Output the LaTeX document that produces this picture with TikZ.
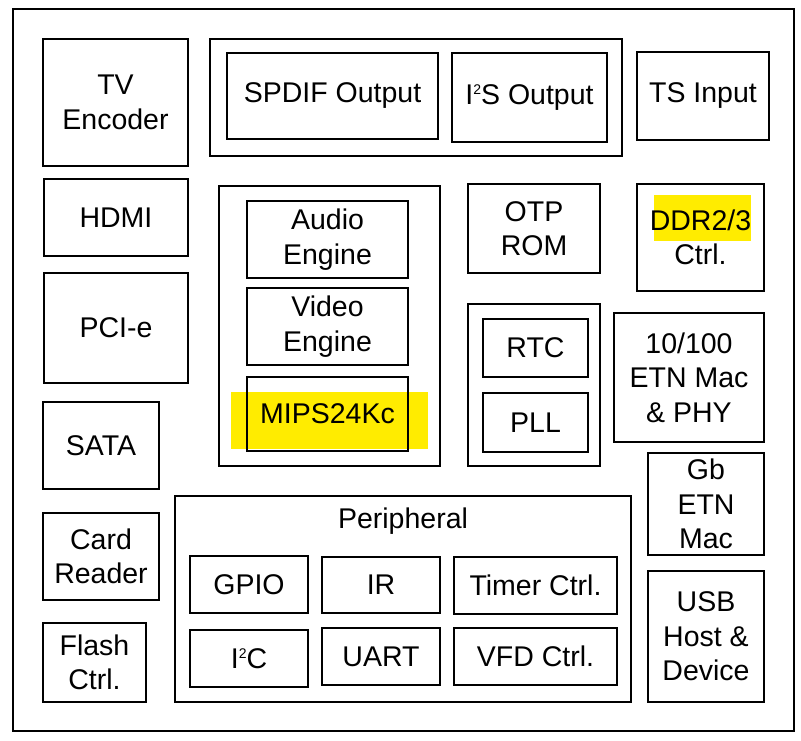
\documentclass[tikz,border=0pt]{standalone}
\usepackage{fontspec}
\setmainfont{Liberation Sans}
\definecolor{hl}{RGB}{255,236,0}
\newcommand\supTwo{\raisebox{10.5pt}{\fontsize{14}{14}\selectfont 2}}
\begin{document}
\begin{tikzpicture}[x=1pt,y=-1pt,
  blk/.style={draw=black, line width=1.8pt, inner sep=0pt, align=center,
    font=\fontsize{28.5}{34.5}\selectfont},
  lbl/.style={inner sep=0pt, align=center, font=\fontsize{28.5}{34.5}\selectfont}]
\useasboundingbox (0,0) rectangle (801,740);
% highlights
\fill[hl] (231,392) rectangle (428,449);
\fill[hl] (654,195) rectangle (751,241);
% outer and groups
\node[blk, minimum width=781pt, minimum height=722pt] (chip) at (403.5,370) {};
\node[blk, minimum width=412pt, minimum height=117pt] (audgrp) at (416,97.5) {};
\node[blk, minimum width=221pt, minimum height=280pt] (coregrp) at (329.5,326) {};
\node[blk, minimum width=132pt, minimum height=162pt] (clkgrp) at (534,385) {};
\node[blk, minimum width=456pt, minimum height=206pt] (periph) at (403,599) {};
\node[lbl] (periphlbl) at (403,521) {Peripheral};
% blocks
\node[blk, minimum width=145pt, minimum height=127pt] (tv) at (115.5,102.5) {TV\\Encoder};
\node[blk, minimum width=211pt, minimum height=86pt] (spdif) at (332.5,96) {SPDIF Output};
\node[blk, minimum width=155pt, minimum height=89pt] (i2s) at (529.5,97.5) {I\supTwo S Output};
\node[blk, minimum width=132pt, minimum height=88pt] (ts) at (703,96) {TS Input};
\node[blk, minimum width=144pt, minimum height=77pt] (hdmi) at (116,217.5) {HDMI};
\node[blk, minimum width=144pt, minimum height=110pt] (pcie) at (116,328) {PCI-e};
\node[blk, minimum width=161pt, minimum height=77pt] (audio) at (327.5,239.5) {Audio\\Engine};
\node[blk, minimum width=161pt, minimum height=77pt] (video) at (327.5,326.5) {Video\\Engine};
\node[blk, minimum width=161pt, minimum height=74pt] (mips) at (327.5,414) {MIPS24Kc};
\node[blk, minimum width=132pt, minimum height=89pt] (otp) at (534,228.5) {OTP\\ROM};
\node[blk, minimum width=127pt, minimum height=107pt] (ddr) at (700.5,237.5) {DDR2/3\\Ctrl.};
\node[blk, minimum width=105pt, minimum height=58pt] (rtc) at (535.5,348) {RTC};
\node[blk, minimum width=105pt, minimum height=59pt] (pll) at (535.5,422.5) {PLL};
\node[blk, minimum width=150pt, minimum height=129pt] (etn) at (689,377.5) {10/100\\ETN Mac\\\& PHY};
\node[blk, minimum width=116pt, minimum height=102pt] (gb) at (706,504) {Gb\\ETN\\Mac};
\node[blk, minimum width=116pt, minimum height=131pt] (usb) at (706,636.5) {USB\\Host \&\\Device};
\node[blk, minimum width=116pt, minimum height=87pt] (sata) at (101,445.5) {SATA};
\node[blk, minimum width=116pt, minimum height=87pt] (card) at (101,556.5) {Card\\Reader};
\node[blk, minimum width=103pt, minimum height=79pt] (flash) at (94.5,662.5) {Flash\\Ctrl.};
\node[blk, minimum width=118pt, minimum height=57pt] (gpio) at (249,584.5) {GPIO};
\node[blk, minimum width=118pt, minimum height=56pt] (ir) at (381,585) {IR};
\node[blk, minimum width=163pt, minimum height=57pt] (timer) at (535.5,585.5) {Timer Ctrl.};
\node[blk, minimum width=118pt, minimum height=57pt] (i2c) at (249,658.5) {I\supTwo C};
\node[blk, minimum width=118pt, minimum height=57pt] (uart) at (381,656.5) {UART};
\node[blk, minimum width=163pt, minimum height=57pt] (vfd) at (535.5,656.5) {VFD Ctrl.};
\end{tikzpicture}
\end{document}
